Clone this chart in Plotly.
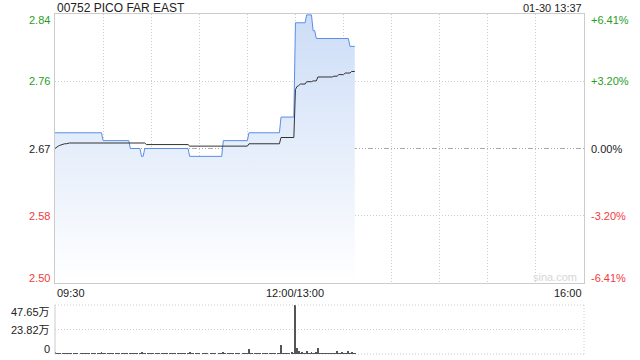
import plotly.graph_objects as go

# ---------------- data ----------------
title_text = "00752 PICO FAR EAST"
stamp_text = "01-30 13:37"
prev_close = 2.67
pct_max = 0.0641

# minute-by-minute last price (09:30 .. 11:59, then 13:00 .. 13:37)
price = [
    2.69, 2.69, 2.69, 2.69, 2.69, 2.69, 2.69, 2.69, 2.69, 2.69,
    2.69, 2.69, 2.69, 2.69, 2.69, 2.69, 2.69, 2.69, 2.69, 2.69,
    2.69, 2.69, 2.69, 2.69, 2.69, 2.69, 2.69, 2.69, 2.69, 2.69,
    2.68, 2.68, 2.68, 2.68, 2.68, 2.68, 2.68, 2.68, 2.68, 2.68,
    2.68, 2.68, 2.68, 2.68, 2.68, 2.68, 2.68, 2.67, 2.67, 2.67,
    2.67, 2.67, 2.67, 2.67, 2.66, 2.66, 2.67, 2.67, 2.67, 2.67,
    2.67, 2.67, 2.67, 2.67, 2.67, 2.67, 2.67, 2.67, 2.67, 2.67,
    2.67, 2.67, 2.67, 2.67, 2.67, 2.67, 2.67, 2.67, 2.67, 2.67,
    2.67, 2.67, 2.67, 2.67, 2.66, 2.66, 2.66, 2.66, 2.66, 2.66,
    2.66, 2.66, 2.66, 2.66, 2.66, 2.66, 2.66, 2.66, 2.66, 2.66,
    2.66, 2.66, 2.66, 2.66, 2.66, 2.68, 2.68, 2.68, 2.68, 2.68,
    2.68, 2.68, 2.68, 2.68, 2.68, 2.68, 2.68, 2.68, 2.68, 2.68,
    2.68, 2.69, 2.69, 2.69, 2.69, 2.69, 2.69, 2.69, 2.69, 2.69,
    2.69, 2.69, 2.69, 2.69, 2.69, 2.69, 2.69, 2.69, 2.69, 2.69,
    2.69, 2.71, 2.71, 2.71, 2.71, 2.71, 2.71, 2.71, 2.71, 2.71,
    2.83, 2.83, 2.83, 2.83, 2.83, 2.83, 2.83, 2.84, 2.84, 2.84,
    2.84, 2.82, 2.82, 2.81, 2.81, 2.81, 2.81, 2.81, 2.81, 2.81,
    2.81, 2.81, 2.81, 2.81, 2.81, 2.81, 2.81, 2.81, 2.81, 2.81,
    2.81, 2.81, 2.81, 2.81, 2.80, 2.80, 2.80, 2.80,
]

# minute-by-minute average price
avg_price = [
    2.670, 2.672, 2.673, 2.674, 2.675, 2.675, 2.676, 2.676, 2.677, 2.677,
    2.677, 2.677, 2.677, 2.677, 2.677, 2.677, 2.677, 2.677, 2.677, 2.677,
    2.677, 2.677, 2.677, 2.677, 2.677, 2.677, 2.677, 2.677, 2.677, 2.677,
    2.677, 2.677, 2.677, 2.677, 2.677, 2.677, 2.677, 2.677, 2.677, 2.677,
    2.677, 2.677, 2.677, 2.677, 2.677, 2.677, 2.677, 2.677, 2.677, 2.677,
    2.677, 2.677, 2.677, 2.677, 2.677, 2.677, 2.677, 2.675, 2.675, 2.675,
    2.675, 2.675, 2.675, 2.675, 2.675, 2.675, 2.675, 2.675, 2.675, 2.675,
    2.675, 2.675, 2.675, 2.675, 2.675, 2.675, 2.675, 2.675, 2.675, 2.675,
    2.675, 2.675, 2.675, 2.675, 2.673, 2.673, 2.673, 2.673, 2.673, 2.673,
    2.673, 2.673, 2.673, 2.673, 2.673, 2.673, 2.673, 2.673, 2.673, 2.673,
    2.673, 2.673, 2.673, 2.673, 2.673, 2.673, 2.673, 2.673, 2.673, 2.673,
    2.673, 2.673, 2.673, 2.673, 2.673, 2.673, 2.673, 2.673, 2.673, 2.673,
    2.673, 2.676, 2.676, 2.676, 2.676, 2.676, 2.676, 2.676, 2.676, 2.676,
    2.676, 2.676, 2.676, 2.676, 2.676, 2.676, 2.676, 2.676, 2.676, 2.676,
    2.676, 2.684, 2.684, 2.684, 2.684, 2.684, 2.684, 2.684, 2.684, 2.684,
    2.745, 2.749, 2.750, 2.752, 2.752, 2.752, 2.752, 2.755, 2.755, 2.755,
    2.755, 2.756, 2.756, 2.756, 2.761, 2.761, 2.761, 2.761, 2.761, 2.761,
    2.761, 2.761, 2.761, 2.761, 2.762, 2.762, 2.762, 2.764, 2.764, 2.764,
    2.764, 2.766, 2.766, 2.766, 2.766, 2.768, 2.768, 2.768,
]

# minute-by-minute volume (shares)
volume = [
    15000, 6000, 4000, 8000, 0, 5000, 3000, 7000, 2000, 6000,
    4000, 0, 5000, 8000, 3000, 0, 6000, 4000, 2000, 9000,
    3000, 5000, 0, 4000, 7000, 2000, 0, 5000, 3000, 12000,
    8000, 4000, 0, 6000, 3000, 5000, 2000, 0, 4000, 6000,
    3000, 0, 5000, 2000, 7000, 4000, 0, 9000, 3000, 5000,
    2000, 6000, 0, 4000, 11000, 8000, 5000, 0, 3000, 6000,
    4000, 2000, 0, 5000, 3000, 7000, 0, 4000, 2000, 6000,
    3000, 0, 5000, 4000, 2000, 8000, 0, 3000, 6000, 4000,
    2000, 5000, 0, 3000, 10000, 4000, 6000, 0, 3000, 5000,
    2000, 0, 4000, 7000, 3000, 5000, 0, 2000, 6000, 4000,
    3000, 0, 5000, 2000, 4000, 12000, 6000, 0, 3000, 5000,
    4000, 2000, 0, 6000, 3000, 5000, 0, 4000, 7000, 3000,
    5000, 45000, 6000, 3000, 0, 5000, 4000, 2000, 6000, 0,
    3000, 5000, 4000, 0, 7000, 2000, 5000, 3000, 0, 6000,
    4000, 87000, 8000, 5000, 3000, 6000, 4000, 0, 20000, 9000,
    476500, 55000, 30000, 8000, 12000, 6000, 9000, 30000, 7000, 5000,
    10000, 8000, 6000, 12000, 58000, 9000, 6000, 4000, 8000, 5000,
    7000, 3000, 6000, 9000, 5000, 8000, 30000, 6000, 4000, 15000,
    7000, 5000, 3000, 30000, 6000, 15000, 4000, 3000,
]

price_tick_labels = ["2.84", "2.76", "2.67", "2.58", "2.50"]
pct_tick_labels = ["+6.41%", "+3.20%", "0.00%", "-3.20%", "-6.41%"]
time_tick_labels = ["09:30", "12:00/13:00", "16:00"]
time_tick_minutes = [0, 150, 330]
vol_tick_labels = ["47.65万", "23.82万", "0"]
vol_max = 476500

# ---------------- derived ----------------
minutes = list(range(len(price)))
y_lo = prev_close * (1 - pct_max)
y_hi = prev_close * (1 + pct_max)
half = (y_hi - prev_close) / 2
price_tick_vals = [y_hi, prev_close + half, prev_close, prev_close - half, y_lo]

GREEN = "#1fa01f"
RED = "#f23b3b"
BLACK = "#222222"
GRID = "#cccccc"
DOT = "1px,2px"
FONT = "Arial, 'Liberation Sans', 'Noto Sans CJK SC', sans-serif"

fig = go.Figure()

fig.add_trace(go.Scatter(
    x=minutes, y=price, mode="lines",
    line=dict(color="#5a8ee6", width=1),
    fill="tozeroy",
    fillgradient=dict(type="vertical",
                      colorscale=[[0, "rgba(255,255,255,1)"], [1, "rgb(204,221,247)"]],
                      start=y_lo, stop=y_hi),
    hoverinfo="skip", xaxis="x", yaxis="y"))

fig.add_trace(go.Scatter(
    x=minutes, y=avg_price, mode="lines",
    line=dict(color="#333333", width=1),
    hoverinfo="skip", xaxis="x", yaxis="y"))

fig.add_trace(go.Bar(
    x=minutes, y=volume, width=0.6,
    marker=dict(color="#555555", line=dict(width=0)),
    hoverinfo="skip", xaxis="x2", yaxis="y2"))

main_bottom = (354 - 283) / 340
vol_top = (354 - 305) / 340

fig.update_layout(
    width=640, height=360,
    margin=dict(l=55, r=56, t=14, b=6),
    paper_bgcolor="white", plot_bgcolor="rgba(0,0,0,0)",
    showlegend=False, bargap=0,
    font=dict(family=FONT, size=11, color=BLACK),
    xaxis=dict(domain=[0, 1], range=[0, 330], tickvals=list(range(30, 330, 30)),
               showticklabels=False, showgrid=True, gridcolor=GRID, griddash=DOT,
               gridwidth=1, zeroline=False, showline=True, linecolor=GRID,
               linewidth=1, mirror=True, ticks="", anchor="y"),
    yaxis=dict(domain=[main_bottom, 1], range=[y_lo, y_hi],
               tickvals=[price_tick_vals[1], price_tick_vals[3]],
               showticklabels=False, showgrid=True, gridcolor=GRID, griddash=DOT,
               zeroline=False, showline=True, linecolor=GRID, linewidth=1,
               mirror=True, ticks="", anchor="x"),
    xaxis2=dict(domain=[0, 1], range=[0, 330], showticklabels=False, showgrid=False,
                zeroline=False, showline=False, ticks="", anchor="y2"),
    yaxis2=dict(domain=[0, vol_top], range=[0, vol_max], tickvals=[vol_max / 2],
                showticklabels=False, showgrid=True, gridcolor=GRID, griddash=DOT,
                zeroline=False, showline=False, ticks="", anchor="x2"),
)

shapes = [
    dict(type="line", xref="x", yref="y", x0=0, x1=330, y0=prev_close, y1=prev_close,
         line=dict(color="#aaaaaa", width=1, dash="1px,2px,1px,2px,1px,2px,5px,2px"),
         layer="below"),
    # volume frame
    dict(type="line", xref="x2 domain", yref="y2 domain", x0=0, x1=0, y0=0, y1=1,
         line=dict(color=GRID, width=1)),
    dict(type="line", xref="x2 domain", yref="y2 domain", x0=0, x1=1, y0=1, y1=1,
         line=dict(color=GRID, width=1, dash=DOT)),
    dict(type="line", xref="x2 domain", yref="y2 domain", x0=1, x1=1, y0=0, y1=1,
         line=dict(color=GRID, width=1, dash=DOT)),
    dict(type="line", xref="x2 domain", yref="y2 domain", x0=0, x1=1, y0=0, y1=0,
         line=dict(color=GRID, width=1, dash=DOT), layer="below"),
]
fig.update_layout(shapes=shapes)

ann = []
ann.append(dict(text=title_text, xref="paper", yref="paper", x=0, y=(354 - 7.5) / 340,
                xanchor="left", yanchor="middle", showarrow=False,
                font=dict(size=12, color=BLACK)))
ann.append(dict(text=stamp_text, xref="paper", yref="paper", x=1, y=(354 - 7.5) / 340,
                xanchor="right", yanchor="middle", showarrow=False,
                font=dict(size=11, color=BLACK)))

shifts = [-6, 0, 0, 0, 5]
left_colors = [GREEN, GREEN, BLACK, RED, RED]
for lab, pct, val, sh, col in zip(price_tick_labels, pct_tick_labels,
                                  price_tick_vals, shifts, left_colors):
    ann.append(dict(text=lab, xref="paper", yref="y", x=0, y=val, xanchor="right",
                    yanchor="middle", xshift=-3, yshift=sh, showarrow=False,
                    font=dict(size=11, color=col)))
    ann.append(dict(text=pct, xref="paper", yref="y", x=1, y=val, xanchor="left",
                    yanchor="middle", xshift=5, yshift=sh, showarrow=False,
                    font=dict(size=11, color=col)))

anchors = ["left", "center", "right"]
for lab, m, a in zip(time_tick_labels, time_tick_minutes, anchors):
    ann.append(dict(text=lab, xref="x", yref="paper", x=m, y=(354 - 293) / 340,
                    xanchor=a, yanchor="middle", showarrow=False,
                    font=dict(size=11, color=BLACK)))

vol_vals = [vol_max, vol_max / 2, 0]
vol_shifts = [-7, 0, 5]
for lab, v, sh in zip(vol_tick_labels, vol_vals, vol_shifts):
    ann.append(dict(text=lab, xref="paper", yref="y2", x=0, y=v, xanchor="right",
                    yanchor="middle", xshift=-3, yshift=sh, showarrow=False,
                    font=dict(size=11, color=BLACK)))

ann.append(dict(text="sina.com", xref="paper", yref="y", x=1, y=y_lo, xanchor="right",
                yanchor="middle", xshift=-5, yshift=6, showarrow=False,
                font=dict(size=11, color="#d6d6d6")))
fig.update_layout(annotations=ann)

fig.write_html("out.html")
